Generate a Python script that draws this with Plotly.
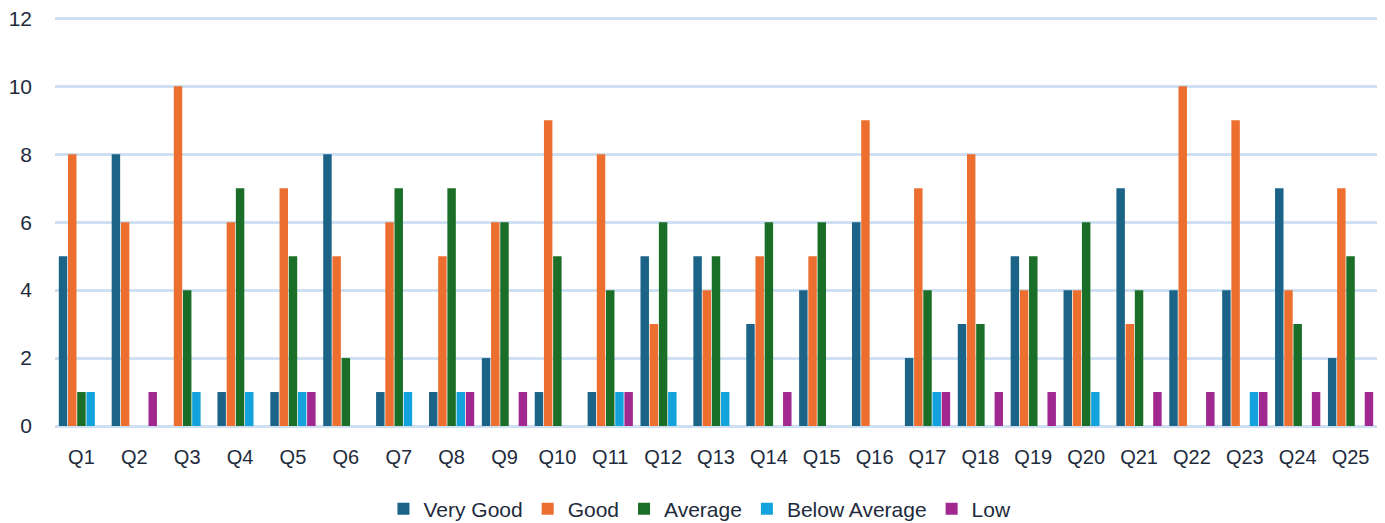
import plotly.graph_objects as go

questions = [f"Q{i}" for i in range(1, 26)]

very_good = [5, 8, 0, 1, 1, 8, 1, 1, 2, 1, 1, 5, 5, 3, 4, 6, 2, 3, 5, 4, 7, 4, 4, 7, 2]
good = [8, 6, 10, 6, 7, 5, 6, 5, 6, 9, 8, 3, 4, 5, 5, 9, 7, 8, 4, 4, 3, 10, 9, 4, 7]
average = [1, 0, 4, 7, 5, 2, 7, 7, 6, 5, 4, 6, 5, 6, 6, 0, 4, 3, 5, 6, 4, 0, 0, 3, 5]
below_average = [1, 0, 1, 1, 1, 0, 1, 1, 0, 0, 1, 1, 1, 0, 0, 0, 1, 0, 0, 1, 0, 0, 1, 0, 0]
low = [0, 1, 0, 0, 1, 0, 0, 1, 1, 0, 1, 0, 0, 1, 0, 0, 1, 1, 1, 0, 1, 1, 1, 1, 1]

series = [
    ("Very Good", very_good, "#1B6488"),
    ("Good", good, "#EC6F30"),
    ("Average", average, "#1B6E27"),
    ("Below Average", below_average, "#13A2DC"),
    ("Low", low, "#A0288F"),
]

fig = go.Figure()
for name, vals, color in series:
    fig.add_trace(go.Bar(x=questions, y=vals, name=name, marker=dict(color=color, line=dict(width=0))))

text_color = "#1E2B3C"
# page body has an 8px margin, so the figure is sized to fit the window
fig.update_layout(
    width=1377, height=515,
    margin=dict(l=47, r=8, t=7, b=97),
    paper_bgcolor="white", plot_bgcolor="white",
    barmode="group", bargap=0.13, bargroupgap=0.08,
    font=dict(family="Liberation Sans, Arial, sans-serif", size=20, color=text_color),
    xaxis=dict(showgrid=False, showline=False, ticks="", ticklabelstandoff=17, automargin=False,
               tickfont=dict(size=20, color=text_color)),
    yaxis=dict(range=[0, 12.1], tickvals=[0, 2, 4, 6, 8, 10, 12], showgrid=True,
               gridcolor="#CFE0F3", gridwidth=2.5,
               zeroline=True, zerolinecolor="#CFE0F3", zerolinewidth=2.5,
               showline=False, ticks="", ticklabelstandoff=22, automargin=False,
               ticklabeloverflow="allow",
               tickfont=dict(size=21, color=text_color)),
    legend=dict(orientation="h", xref="container", x=0.5025, xanchor="center",
                yref="container", y=0.027, yanchor="middle",
                font=dict(family="Liberation Sans, sans-serif", size=21, color=text_color),
                itemwidth=30, traceorder="normal"),
    showlegend=True,
)

fig.write_html("out.html")
